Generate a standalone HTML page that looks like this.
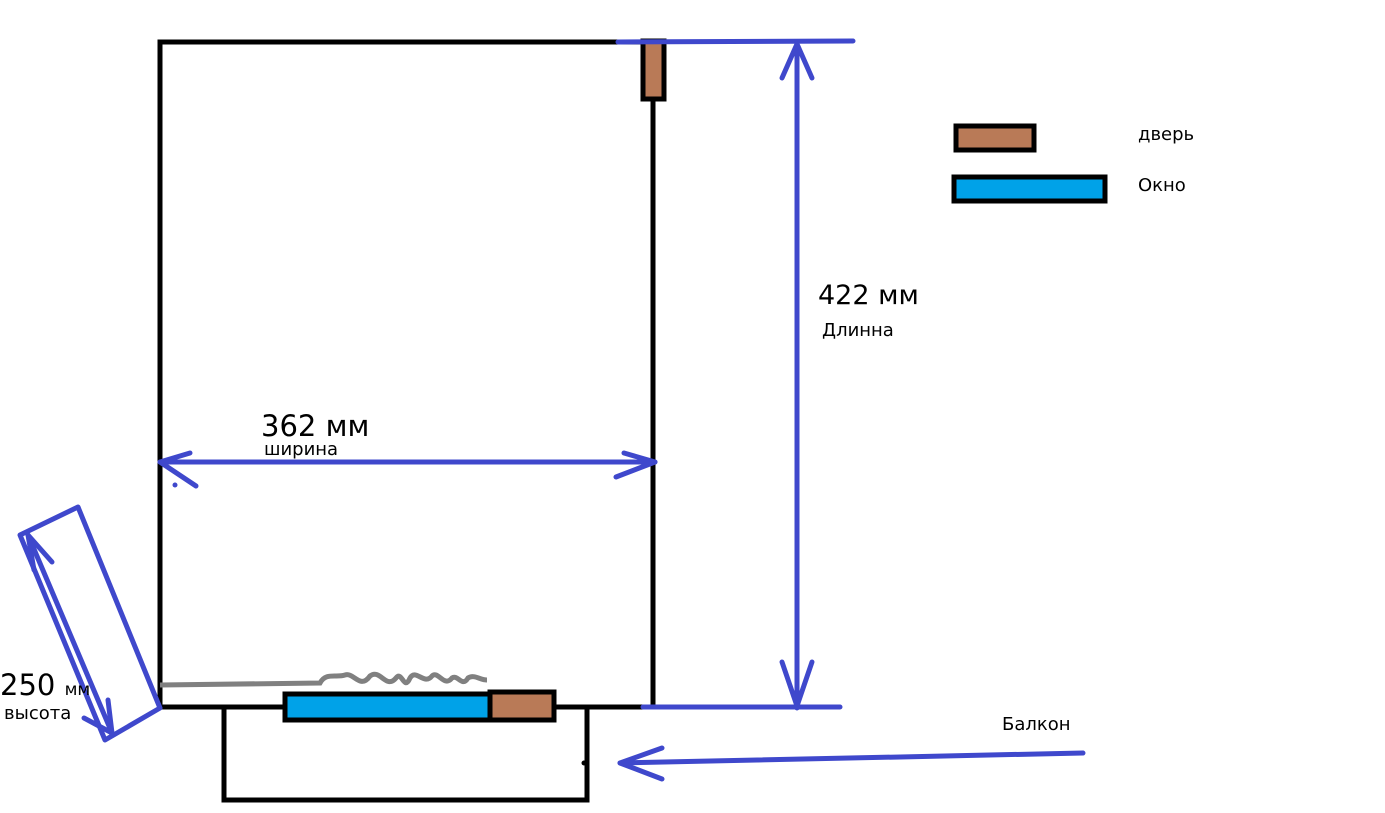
<!DOCTYPE html>
<html><head><meta charset="utf-8"><style>
html,body{margin:0;padding:0;background:#fff;width:1385px;height:813px;overflow:hidden}
svg{display:block}
text{font-family:"DejaVu Sans","Liberation Sans",sans-serif;fill:#000}
</style></head><body>
<svg width="1385" height="813" viewBox="0 0 1385 813">
<g fill="none" stroke="#000" stroke-width="5">
<rect x="160" y="42" width="493" height="665"/>
<polyline points="224,708 224,800 587,800 587,708"/>
</g>
<path d="M160,685 L320,683 C326,672 336,678 345,675 C354,672 360,690 370,676 C380,668 386,690 396,678 C402,670 404,692 410,678 C416,668 424,686 432,676 C438,670 444,688 452,678 C458,674 462,688 468,678 C474,674 480,680 487,680" stroke="#808080" stroke-width="5" fill="none"/>
<rect x="285" y="694" width="205" height="26" fill="#00a2e8" stroke="#000" stroke-width="5"/>
<rect x="490" y="692" width="64" height="28" fill="#b97a57" stroke="#000" stroke-width="5"/>
<rect x="643" y="41" width="21" height="58" fill="#b97a57" stroke="#000" stroke-width="5"/>
<rect x="956" y="126" width="78" height="24" fill="#b97a57" stroke="#000" stroke-width="5"/>
<rect x="954" y="177" width="151" height="24" fill="#00a2e8" stroke="#000" stroke-width="5"/>
<g stroke="#3f48cc" stroke-width="5" fill="none" stroke-linecap="round" stroke-linejoin="round">
<line x1="618" y1="42" x2="853" y2="41"/>
<line x1="797" y1="44" x2="797" y2="708"/>
<polyline points="782,78 797,44 812,78"/>
<polyline points="782,662 797,706 812,662"/>
<line x1="643" y1="707" x2="840" y2="707"/>
<line x1="160" y1="462" x2="655" y2="462"/>
<polyline points="190,453 160,462 196,486"/>
<polyline points="624,453 655,462 616,477"/>
<polygon points="20,535 78,507 160,708 105,740"/>
<line x1="28" y1="535" x2="112" y2="733"/>
<polyline points="34,570 28,535 52,562"/>
<polyline points="84,718 112,733 108,700"/>
<line x1="1083" y1="753" x2="620" y2="763"/>
<polyline points="662,748 620,763 662,779"/>
</g>
<circle cx="175" cy="485" r="2.5" fill="#3f48cc"/>
<circle cx="584" cy="763" r="2.5" fill="#000"/>
<text x="261" y="436" font-size="29">362 мм</text>
<text x="264" y="455" font-size="18">ширина</text>
<text x="818" y="304" font-size="27">422 мм</text>
<text x="822" y="336" font-size="18">Длинна</text>
<text x="0" y="695" font-size="29">250 <tspan font-size="17">мм</tspan></text>
<text x="4" y="719" font-size="18">высота</text>
<text x="1138" y="140" font-size="18">дверь</text>
<text x="1138" y="191" font-size="18">Окно</text>
<text x="1002" y="730" font-size="18">Балкон</text>
</svg>
</body></html>
